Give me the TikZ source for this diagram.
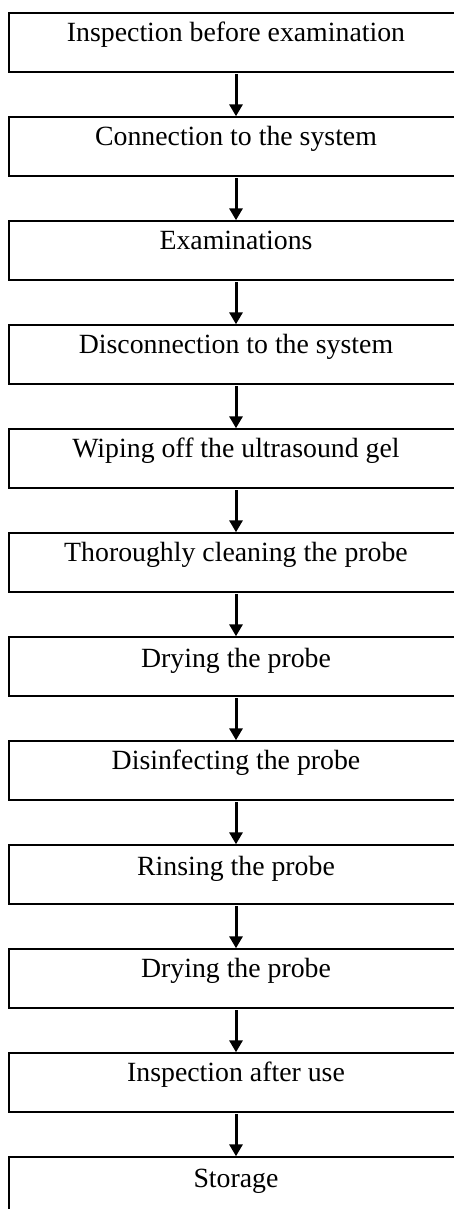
\documentclass[tikz,border=0pt]{standalone}
\usepackage{fontspec}
\setmainfont{Liberation Serif}
\usetikzlibrary{arrows.meta,positioning}
\tikzset{
    stepbox/.style={rectangle, draw, line width=2pt, inner sep=0pt, minimum width=453.4pt, text height=28pt, text depth=31pt, font=\fontsize{27.8}{33}\selectfont},
    flow/.style={-{Triangle[length=12pt, width=13pt]}, line width=3pt, shorten <=1pt}
}

\begin{document}
\begin{tikzpicture}[x=1pt, y=1pt, node distance=43pt]
    \useasboundingbox (0,0) rectangle (454,-1209);
    \clip (0,0) rectangle (454,-1209);

    % Procedure steps (one column)
    \node[stepbox] (P1) at (236, -42.8) {Inspection before examination};
    \node[stepbox, below=of P1] (P2) {Connection to the system};
    \node[stepbox, below=of P2] (P3) {Examinations};
    \node[stepbox, below=of P3] (P4) {Disconnection to the system};
    \node[stepbox, below=of P4] (P5) {Wiping off the ultrasound gel};
    \node[stepbox, below=of P5] (P6) {Thoroughly cleaning the probe};
    \node[stepbox, text height=30pt, text depth=29pt, below=of P6] (P7) {Drying the probe};
    \node[stepbox, below=of P7] (P8) {Disinfecting the probe};
    \node[stepbox, text height=30pt, text depth=29pt, below=of P8] (P9) {Rinsing the probe};
    \node[stepbox, below=of P9] (P10) {Drying the probe};
    \node[stepbox, below=of P10] (P11) {Inspection after use};
    \node[stepbox, text height=30pt, text depth=29pt, below=of P11] (P12) {Storage};

    % Arrows between steps
    \foreach \a/\b in {P1/P2, P2/P3, P3/P4, P4/P5, P5/P6, P6/P7, P7/P8, P8/P9, P9/P10, P10/P11, P11/P12}
        \draw[flow] (\a.south) -- (\b.north);
\end{tikzpicture}
\end{document}
